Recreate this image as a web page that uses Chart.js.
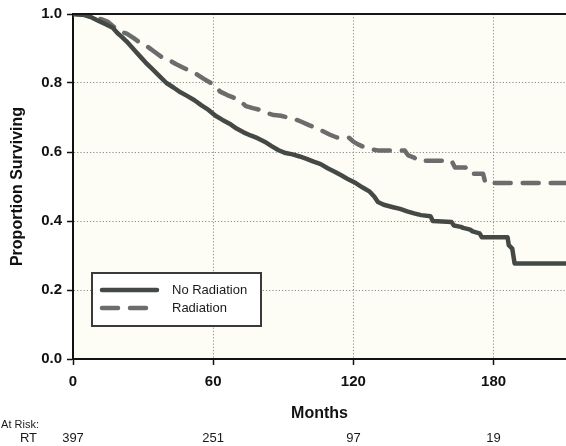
<!DOCTYPE html>
<html>
<head>
<meta charset="utf-8">
<script src="https://cdn.jsdelivr.net/npm/chart.js@4.4.1/dist/chart.umd.min.js"></script>
<style>
  html, body { margin: 0; padding: 0; background: #ffffff; }
  #wrap { width: 566px; height: 446px; position: relative; overflow: hidden; }
</style>
</head>
<body>
<div id="wrap"><canvas id="km" width="566" height="446"></canvas></div>
<script>
// Kaplan-Meier survival estimates (months, proportion surviving).
// Flat runs followed by drops are written as two points.
const noRadiationMonths = [0, 5, 8, 11, 14, 17, 19, 21, 23, 25, 27, 29, 31, 34, 37, 40, 43, 46, 49, 52,
  55, 58, 61, 64, 67, 70, 73, 76, 79, 82, 85, 88, 91, 94, 97, 100, 103, 106, 109, 112,
  115, 118, 121, 124, 127, 129, 130.5, 133, 137, 140, 143, 146, 149, 153, 154, 162, 163, 166, 167, 170,
  171, 174, 175, 186, 186.5, 188, 189, 211];
const noRadiationSurvival = [1.0, 0.997, 0.99, 0.98, 0.97, 0.96, 0.945, 0.933, 0.92, 0.905, 0.89, 0.875, 0.86, 0.84, 0.82, 0.80, 0.787, 0.773, 0.762, 0.75,
  0.735, 0.722, 0.705, 0.693, 0.682, 0.668, 0.657, 0.648, 0.64, 0.63, 0.617, 0.605, 0.597, 0.593, 0.587, 0.58, 0.572, 0.565, 0.553, 0.543,
  0.532, 0.52, 0.51, 0.497, 0.485, 0.47, 0.455, 0.447, 0.44, 0.435, 0.428, 0.422, 0.417, 0.414, 0.40, 0.397, 0.387, 0.383, 0.38, 0.375,
  0.37, 0.364, 0.353, 0.353, 0.33, 0.32, 0.277, 0.277];

const radiationMonths = [0, 5, 8, 12, 15, 18, 20, 23, 26, 29, 32, 35, 38, 41, 44, 47, 50, 53, 56, 59,
  61, 63, 66, 69, 72, 74, 77, 80, 83, 86, 89, 92, 95, 98, 101, 104, 107, 110, 113, 118,
  120, 122, 125, 128, 131, 142, 143.5, 146, 147.5, 162, 163.5, 168, 169.5, 175.5, 176.5, 211];
const radiationSurvival = [1.0, 0.998, 0.99, 0.985, 0.977, 0.96, 0.95, 0.943, 0.93, 0.915, 0.905, 0.89, 0.875, 0.867, 0.855, 0.845, 0.835, 0.825, 0.812, 0.80,
  0.79, 0.775, 0.765, 0.757, 0.745, 0.733, 0.727, 0.722, 0.713, 0.707, 0.705, 0.70, 0.695, 0.687, 0.678, 0.67, 0.66, 0.65, 0.642, 0.642,
  0.63, 0.622, 0.613, 0.607, 0.604, 0.604, 0.59, 0.584, 0.575, 0.575, 0.555, 0.555, 0.537, 0.537, 0.51, 0.51];

const seriesNames = ['No Radiation', 'Radiation'];
const monthTicks = [0, 60, 120, 180];
const survivalTicks = [0, 0.2, 0.4, 0.6, 0.8, 1.0];
const atRiskHeading = 'At Risk:';
const atRiskGroup = 'RT';
const atRiskCounts = [397, 251, 97, 19];

const FONT = "'Liberation Sans', Arial, Helvetica, sans-serif";
Chart.defaults.font.family = FONT;
Chart.defaults.color = '#111111';

const toPoints = (xs, ys) => xs.map((x, i) => ({ x: x, y: ys[i] }));

// Cream panel behind the plot
const panelBackground = {
  id: 'panelBackground',
  beforeDraw(chart) {
    const { ctx, chartArea: a } = chart;
    ctx.save();
    ctx.fillStyle = '#fdfdf6';
    ctx.fillRect(a.left, a.top, a.right - a.left, a.bottom - a.top);
    ctx.restore();
  }
};

// Solid frame line along the top of the plot
const topFrame = {
  id: 'topFrame',
  afterDraw(chart) {
    const { ctx, chartArea: a } = chart;
    ctx.save();
    ctx.strokeStyle = '#161616';
    ctx.lineWidth = 2;
    ctx.beginPath();
    ctx.moveTo(a.left, a.top);
    ctx.lineTo(a.right + 2, a.top);
    ctx.stroke();
    ctx.restore();
  }
};

// Boxed legend inside the plot, built from the datasets
const boxedLegend = {
  id: 'boxedLegend',
  afterDatasetsDraw(chart) {
    const { ctx, chartArea: a } = chart;
    const x0 = a.left + 19, y0 = 273, w = 169, h = 53;
    ctx.save();
    ctx.fillStyle = '#ffffff';
    ctx.fillRect(x0, y0, w, h);
    ctx.strokeStyle = '#3a3a3a';
    ctx.lineWidth = 2;
    ctx.strokeRect(x0, y0, w, h);
    chart.data.datasets.forEach((ds, i) => {
      const y = y0 + 17 + i * 18;
      ctx.strokeStyle = ds.borderColor;
      ctx.lineWidth = ds.borderWidth;
      ctx.lineCap = ds.borderCapStyle || 'round';
      ctx.setLineDash(ds.borderDash || []);
      ctx.beginPath();
      ctx.moveTo(x0 + 10, y);
      ctx.lineTo(x0 + (ds.borderDash ? 58 : 65), y);
      ctx.stroke();
      ctx.setLineDash([]);
      ctx.fillStyle = '#1a1a1a';
      ctx.font = '13px ' + FONT;
      ctx.textAlign = 'left';
      ctx.textBaseline = 'middle';
      ctx.fillText(ds.label, x0 + 80, y);
    });
    ctx.restore();
  }
};

// Numbers at risk under the month axis
const atRiskTable = {
  id: 'atRiskTable',
  afterDraw(chart) {
    const { ctx } = chart;
    const xs = chart.scales.x;
    ctx.save();
    ctx.fillStyle = '#1a1a1a';
    ctx.textBaseline = 'middle';
    ctx.font = '11px ' + FONT;
    ctx.textAlign = 'right';
    ctx.fillText(atRiskHeading, 39, 425);
    ctx.font = '13px ' + FONT;
    ctx.fillText(atRiskGroup, 37, 438);
    ctx.textAlign = 'center';
    monthTicks.forEach((m, i) => {
      ctx.fillText(String(atRiskCounts[i]), xs.getPixelForValue(m), 438);
    });
    ctx.restore();
  }
};

const gridColor = (edgeValues) => (c) =>
  (c.tick && edgeValues.includes(c.tick.value)) ? 'rgba(0,0,0,0)' : '#8c8c8c';

new Chart(document.getElementById('km'), {
  type: 'line',
  data: {
    datasets: [
      {
        label: seriesNames[0],
        data: toPoints(noRadiationMonths, noRadiationSurvival),
        borderColor: '#454945',
        borderWidth: 4.5,
        borderJoinStyle: 'round',
        borderCapStyle: 'round',
        pointRadius: 0,
        tension: 0,
        fill: false,
        order: 1
      },
      {
        label: seriesNames[1],
        data: toPoints(radiationMonths, radiationSurvival),
        borderColor: '#6c6c6c',
        borderWidth: 4.5,
        borderDash: [16, 12],
        borderJoinStyle: 'round',
        borderCapStyle: 'round',
        pointRadius: 0,
        tension: 0,
        fill: false,
        order: 2
      }
    ]
  },
  options: {
    responsive: false,
    devicePixelRatio: 1,
    animation: false,
    layout: { padding: { top: 13, right: 0, bottom: 23, left: 0 } },
    plugins: {
      legend: { display: false },
      tooltip: { enabled: false }
    },
    scales: {
      x: {
        type: 'linear',
        min: 0,
        max: 211,
        afterBuildTicks: (s) => { s.ticks = monthTicks.map(v => ({ value: v })); },
        afterFit: (s) => { s.height = 64; },
        ticks: {
          font: { size: 15, weight: 'bold' },
          color: '#111111',
          padding: 8,
          maxRotation: 0,
          autoSkip: false
        },
        grid: {
          color: gridColor([0]),
          lineWidth: 1,
          tickLength: 6,
          tickColor: '#111111',
          tickWidth: 1.5
        },
        border: { display: true, color: '#111111', width: 2, dash: [1.2, 2] },
        title: {
          display: true,
          text: 'Months',
          font: { size: 16, weight: 'bold' },
          color: '#111111',
          padding: { top: 0, bottom: 0 }
        }
      },
      y: {
        type: 'linear',
        min: 0,
        max: 1,
        afterBuildTicks: (s) => { s.ticks = survivalTicks.map(v => ({ value: v })); },
        afterFit: (s) => { s.width = 73; },
        ticks: {
          font: { size: 15, weight: 'bold' },
          color: '#111111',
          padding: 5,
          callback: (v) => Number(v).toFixed(1)
        },
        grid: {
          color: gridColor([0, 1]),
          lineWidth: 1,
          tickLength: 6,
          tickColor: '#111111',
          tickWidth: 1.5
        },
        border: { display: true, color: '#111111', width: 2, dash: [1.2, 2] },
        title: {
          display: true,
          text: 'Proportion Surviving',
          font: { size: 16, weight: 'bold' },
          color: '#111111',
          padding: { top: 8, bottom: 0 }
        }
      }
    }
  },
  plugins: [panelBackground, boxedLegend, atRiskTable, topFrame]
});
</script>
</body>
</html>
